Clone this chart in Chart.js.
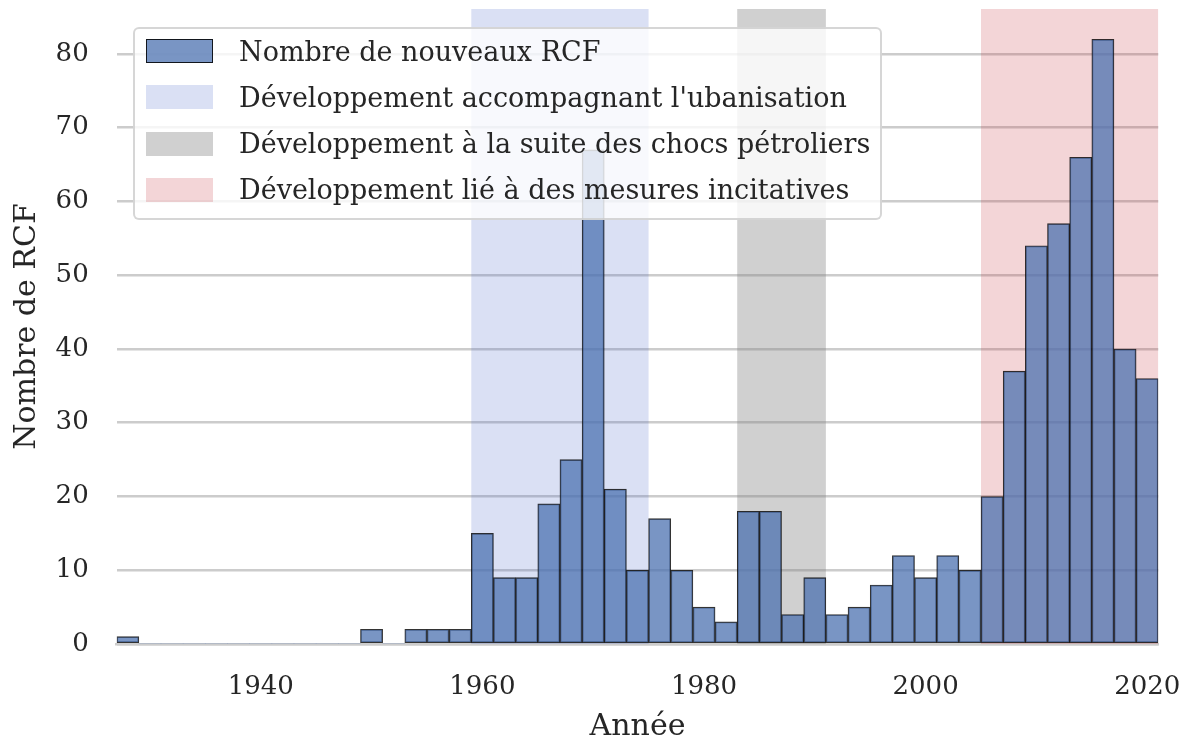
<!DOCTYPE html>
<html lang="fr">
<head>
<meta charset="utf-8">
<title>Nombre de nouveaux RCF</title>
<script src="https://cdn.jsdelivr.net/npm/chart.js@4.4.1/dist/chart.umd.min.js"></script>
<style>
  html, body { margin: 0; padding: 0; background: #fff; }
  #wrap { position: relative; width: 1187px; height: 742px; }
  #legende {
    position: absolute; left: 133px; top: 27px; width: 749px; height: 193px;
    box-sizing: border-box; border: 2px solid rgba(204,204,204,0.8); border-radius: 6px;
    background: rgba(255,255,255,0.8);
    font-family: "DejaVu Serif", serif; font-size: 27px; color: #262626;
  }
  .ligne { position: absolute; left: 0; height: 46px; display: flex; align-items: center; white-space: nowrap; }
  .patch { width: 67px; height: 24px; margin-left: 11px; margin-right: 26px; box-sizing: border-box; }
</style>
</head>
<body>
<div id="wrap">
  <canvas id="graphique" width="1187" height="742"></canvas>
  <div id="legende"></div>
</div>
<script>
// classes de 2 ans (debut de chaque classe)
const classes = [1927, 1929, 1931, 1933, 1935, 1937, 1939, 1941, 1943, 1945, 1947, 1949, 1951, 1953, 1955, 1957,
  1959, 1961, 1963, 1965, 1967, 1969, 1971, 1973, 1975, 1977, 1979, 1981, 1983, 1985, 1987, 1989,
  1991, 1993, 1995, 1997, 1999, 2001, 2003, 2005, 2007, 2009, 2011, 2013, 2015, 2017, 2019];
const largeurClasse = 2;
const nbRCF = [1, 0, 0, 0, 0, 0, 0, 0, 0, 0, 0, 2, 0, 2, 2, 2,
  15, 9, 9, 19, 25, 67, 21, 10, 17, 10, 5, 3, 18, 18, 4, 9,
  4, 5, 8, 12, 9, 12, 10, 20, 37, 54, 57, 66, 82, 40, 36];

// periodes surlignees
const periodeNoms = [
  "Développement accompagnant l'ubanisation",
  "Développement à la suite des chocs pétroliers",
  "Développement lié à des mesures incitatives"
];
const periodeDebut = [1959, 1983, 2005];
const periodeFin = [1975, 1991, 2021];

const xTicks = [1940, 1960, 1980, 2000, 2020];
const yTicks = [0, 10, 20, 30, 40, 50, 60, 70, 80];

const couleurBarre = "rgba(76, 114, 176, 0.75)";
const couleursPeriodes = ["rgba(70, 100, 200, 0.2)", "rgba(128, 128, 128, 0.37)", "rgba(195, 45, 55, 0.2)"];
const couleurTexte = "#262626";

Chart.defaults.font.family = "'DejaVu Serif', serif";
Chart.defaults.font.size = 26;
Chart.defaults.color = couleurTexte;

// pas de marge auto autour des axes, on fixe tout a la main
function sansMarge(s) {
  s.paddingLeft = 0;
  s.paddingRight = 0;
  s.paddingTop = 0;
  s.paddingBottom = 0;
}

// bandes verticales dessinees sous les barres
const pluginPeriodes = {
  id: "periodes",
  beforeDatasetsDraw(chart) {
    const { ctx, chartArea, scales: { x } } = chart;
    ctx.save();
    ctx.beginPath();
    ctx.rect(chartArea.left, chartArea.top, chartArea.right - chartArea.left, chartArea.bottom - chartArea.top);
    ctx.clip();
    periodeDebut.forEach((d, i) => {
      const x0 = x.getPixelForValue(d);
      const x1 = x.getPixelForValue(periodeFin[i]);
      ctx.fillStyle = couleursPeriodes[i];
      ctx.fillRect(x0, chartArea.top, x1 - x0, chartArea.bottom - chartArea.top);
    });
    ctx.restore();
  }
};

new Chart(document.getElementById("graphique"), {
  type: "bar",
  data: {
    datasets: [{
      label: "Nombre de nouveaux RCF",
      data: classes.map((a, i) => ({ x: a + largeurClasse / 2, y: nbRCF[i] })),
      backgroundColor: couleurBarre,
      borderColor: "rgba(0, 0, 0, 0.8)",
      borderWidth: ctx => (ctx.raw && ctx.raw.y > 0 ? 1.1 : 0),
      borderSkipped: false,
      barPercentage: 1,
      categoryPercentage: 1
    }]
  },
  options: {
    responsive: false,
    animation: false,
    devicePixelRatio: 1,
    layout: { padding: { left: 0, top: 9, right: 28.7, bottom: 0 } },
    plugins: { legend: { display: false }, tooltip: { enabled: false } },
    scales: {
      x: {
        type: "linear",
        min: 1927,
        max: 2021,
        offset: false,
        grid: { display: false, offset: false },
        border: { display: true, color: "#cccccc", width: 2.5 },
        afterBuildTicks: s => { s.ticks = xTicks.map(v => ({ value: v })); },
        afterFit: s => { s.height = 98; sansMarge(s); },
        ticks: { padding: 20, maxRotation: 0, callback: v => String(v) },
        title: { display: true, text: "Année", font: { size: 30 }, padding: { top: 0, bottom: -3 } }
      },
      y: {
        min: 0,
        max: 86.1,
        grid: { color: "#cccccc", lineWidth: 2.5, drawTicks: false },
        border: { display: false },
        afterBuildTicks: s => { s.ticks = yTicks.map(v => ({ value: v })); },
        afterFit: s => { s.width = 116.7; sansMarge(s); },
        ticks: { padding: 28, callback: v => String(v) },
        title: { display: true, text: "Nombre de RCF", font: { size: 30 }, padding: { top: 9, bottom: 0 } }
      }
    }
  },
  plugins: [pluginPeriodes]
});

// legende en HTML par-dessus le graphique
const legende = document.getElementById("legende");
const entrees = [{ nom: "Nombre de nouveaux RCF", fond: couleurBarre, bord: "1.3px solid rgba(0,0,0,0.85)" }]
  .concat(periodeNoms.map((n, i) => ({ nom: n, fond: couleursPeriodes[i], bord: "none" })));
entrees.forEach((e, i) => {
  const ligne = document.createElement("div");
  ligne.className = "ligne";
  ligne.style.top = (24 - 2 + i * 46.3 - 23) + "px";
  const patch = document.createElement("div");
  patch.className = "patch";
  patch.style.background = e.fond;
  patch.style.border = e.bord;
  const texte = document.createElement("span");
  texte.textContent = e.nom;
  ligne.appendChild(patch);
  ligne.appendChild(texte);
  legende.appendChild(ligne);
});
</script>
</body>
</html>
